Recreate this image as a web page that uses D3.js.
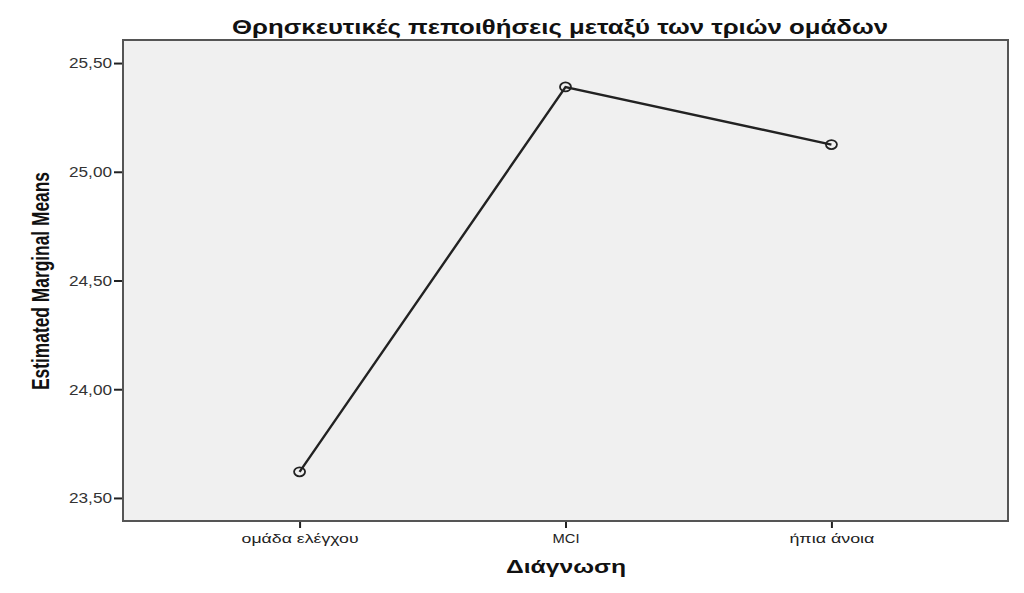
<!DOCTYPE html>
<html>
<head>
<meta charset="utf-8">
<script src="https://cdn.jsdelivr.net/npm/d3@7"></script>
<style>
  body { margin: 0; background: #fff; }
  text { font-family: "Liberation Sans", "DejaVu Sans", sans-serif; }
</style>
</head>
<body>
<script>
// groups on the x axis
var groups = ["ομάδα ελέγχου", "MCI", "ήπια άνοια"];
// estimated marginal means
var means = [23.62, 25.39, 25.125];
// y tick values
var yTicks = [23.5, 24.0, 24.5, 25.0, 25.5];

var title = "Θρησκευτικές πεποιθήσεις μεταξύ των τριών ομάδων";
var yTitle = "Estimated Marginal Means";
var xTitle = "Διάγνωση";

var W = 1024, H = 593;
var margin = {top: 40, right: 16, bottom: 72, left: 123};
var width = W - margin.left - margin.right;
var height = H - margin.top - margin.bottom;

var svg = d3.select("body").append("svg")
    .attr("width", W)
    .attr("height", H);

var g = svg.append("g")
    .attr("transform", "translate(" + margin.left + "," + margin.top + ")");

var x = d3.scalePoint().domain(groups).range([0, width]).padding(0.664);
var y = d3.scaleLinear().domain([23.394, 25.606]).range([height, 0]);

// plot background
g.append("rect")
    .attr("width", width)
    .attr("height", height)
    .attr("fill", "#f0f0f0");

var fmt = function(d) { return d3.format(".2f")(d).replace(".", ","); };

// y axis
var yAxis = g.append("g")
    .call(d3.axisLeft(y).tickValues(yTicks).tickSize(9).tickPadding(2).tickFormat(fmt));
yAxis.select(".domain").remove();
yAxis.selectAll("line").attr("stroke", "#222").attr("stroke-width", 2);
yAxis.selectAll("text")
    .attr("fill", "#333")
    .style("font-size", "15px")
    .attr("textLength", 43)
    .attr("lengthAdjust", "spacingAndGlyphs");

// x axis
var xAxis = g.append("g")
    .attr("transform", "translate(0," + height + ")")
    .call(d3.axisBottom(x).tickSize(7).tickPadding(5));
xAxis.select(".domain").remove();
xAxis.selectAll("line").attr("stroke", "#222").attr("stroke-width", 2);
var xLabelWidths = {"ομάδα ελέγχου": 117, "MCI": 27, "ήπια άνοια": 85};
xAxis.selectAll("text")
    .attr("fill", "#222")
    .style("font-size", "13.5px")
    .attr("textLength", function(d) { return xLabelWidths[d]; })
    .attr("lengthAdjust", "spacingAndGlyphs");

// frame
g.append("rect")
    .attr("width", width)
    .attr("height", height)
    .attr("fill", "none")
    .attr("stroke", "#555")
    .attr("stroke-width", 2);

// line and markers
var pts = groups.map(function(d, i) { return {g: d, v: means[i]}; });
var line = d3.line()
    .x(function(d) { return x(d.g); })
    .y(function(d) { return y(d.v); });

g.append("path")
    .datum(pts)
    .attr("d", line)
    .attr("fill", "none")
    .attr("stroke", "#222")
    .attr("stroke-width", 2.4);

g.selectAll(".pt")
    .data(pts)
  .enter().append("ellipse")
    .attr("class", "pt")
    .attr("cx", function(d) { return x(d.g); })
    .attr("cy", function(d) { return y(d.v); })
    .attr("rx", 5.5)
    .attr("ry", 4.5)
    .attr("fill", "none")
    .attr("stroke", "#222")
    .attr("stroke-width", 1.8);

// titles
svg.append("text")
    .attr("x", 232)
    .attr("y", 34)
    .attr("font-weight", "bold")
    .style("font-size", "20px")
    .attr("fill", "#111")
    .attr("textLength", 656)
    .attr("lengthAdjust", "spacingAndGlyphs")
    .text(title);

svg.append("text")
    .attr("transform", "translate(49,281) rotate(-90)")
    .attr("text-anchor", "middle")
    .attr("font-weight", "bold")
    .style("font-family", "'Liberation Sans Narrow', 'Liberation Sans', sans-serif")
    .style("font-size", "23px")
    .attr("fill", "#111")
    .attr("textLength", 218)
    .attr("lengthAdjust", "spacingAndGlyphs")
    .text(yTitle);

svg.append("text")
    .attr("x", 506)
    .attr("y", 573)
    .attr("font-weight", "bold")
    .style("font-size", "19px")
    .attr("fill", "#111")
    .attr("textLength", 120)
    .attr("lengthAdjust", "spacingAndGlyphs")
    .text(xTitle);
</script>
</body>
</html>
